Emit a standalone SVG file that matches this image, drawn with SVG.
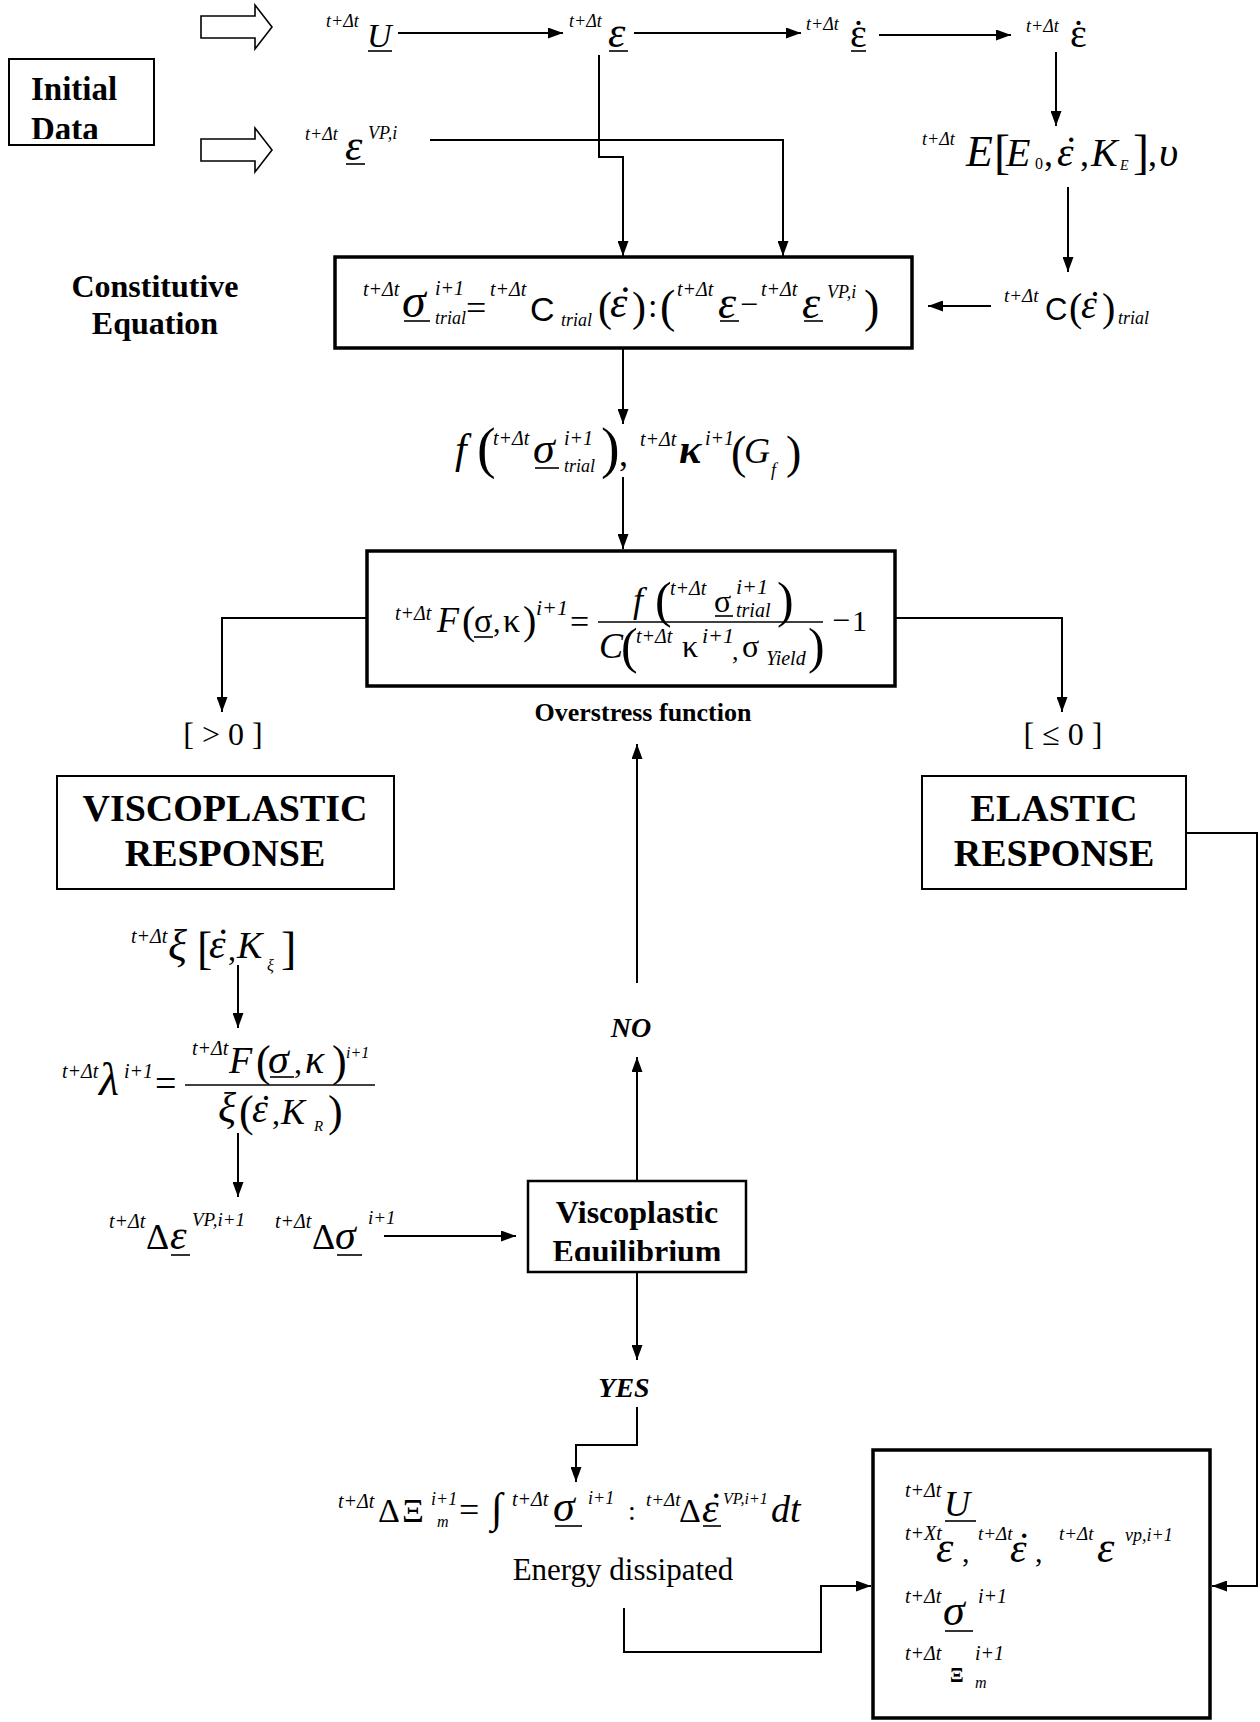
<svg xmlns="http://www.w3.org/2000/svg" width="1260" height="1722" viewBox="0 0 1260 1722">
<style>
text{font-family:"Liberation Serif","Times New Roman",serif;fill:#000}
.i{font-style:italic}
.b{font-weight:bold}
.sans{font-family:"Liberation Sans",Arial,sans-serif}
.pre{font-style:italic}
.ln{stroke:#000;stroke-width:2;fill:none}
.ul{stroke:#000;stroke-width:1.6}
.box{fill:none;stroke:#000;stroke-width:2}
.tbox{fill:none;stroke:#000;stroke-width:3.5}
.hol{fill:#fff;stroke:#000;stroke-width:1.6}
</style>
<defs>
<marker id="ah" markerUnits="userSpaceOnUse" markerWidth="15" markerHeight="11" refX="15" refY="5.5" orient="auto">
<path d="M0,0 L15,5.5 L0,11 z" fill="#000"/>
</marker>
<clipPath id="clipInit"><rect x="10" y="60" width="143" height="79"/></clipPath>
<clipPath id="clipEq"><rect x="530" y="1183" width="214" height="78"/></clipPath>
</defs>

<g id="connectors">
<path class="ln" marker-end="url(#ah)" d="M398,33 H563"/>
<path class="ln" marker-end="url(#ah)" d="M634,33 H801"/>
<path class="ln" marker-end="url(#ah)" d="M879,35 H1011"/>
<path class="ln" marker-end="url(#ah)" d="M1056,52 V126"/>
<path class="ln" marker-end="url(#ah)" d="M1068,187 V272"/>
<path class="ln" marker-end="url(#ah)" d="M991,306 H928"/>
<path class="ln" marker-end="url(#ah)" d="M599,55 V157 H623 V256"/>
<path class="ln" marker-end="url(#ah)" d="M430,140 H783 V256"/>
<path class="ln" marker-end="url(#ah)" d="M623,348 V424"/>
<path class="ln" marker-end="url(#ah)" d="M623,477 V549"/>
<path class="ln" marker-end="url(#ah)" d="M367,618 H222 V712"/>
<path class="ln" marker-end="url(#ah)" d="M895,618 H1062 V712"/>
<path class="ln" marker-end="url(#ah)" d="M238,965 V1028"/>
<path class="ln" marker-end="url(#ah)" d="M238,1133 V1197"/>
<path class="ln" marker-end="url(#ah)" d="M384,1236 H516"/>
<path class="ln" marker-end="url(#ah)" d="M637,1181 V1057"/>
<path class="ln" marker-end="url(#ah)" d="M637,983 V744"/>
<path class="ln" marker-end="url(#ah)" d="M637,1272 V1360"/>
<path class="ln" marker-end="url(#ah)" d="M637,1407 V1445 H576 V1482"/>
<path class="ln" marker-end="url(#ah)" d="M624,1608 V1652 H821 V1586 H871"/>
<path class="ln" marker-end="url(#ah)" d="M1186,833 H1257 V1586 H1212"/>
</g>

<g id="input-arrows">
<path class="hol" d="M201,16 H255 V5 L272,27 L255,49 V38 H201 Z"/>
<path class="hol" d="M201,139 H255 V128 L272,150 L255,172 V161 H201 Z"/>
</g>

<g id="initial-data">
<rect class="box" x="9" y="59" width="145" height="86"/>
<g clip-path="url(#clipInit)">
<text class="b" x="31" y="100" font-size="33">Initial</text>
<text class="b" x="31" y="140" font-size="33">Data</text>
</g>
</g>

<g id="U">
<text class="pre" x="326" y="27" font-size="18">t+Δt</text>
<text class="i" x="367" y="47" font-size="34">U</text>
<line class="ul" x1="368" y1="51" x2="392" y2="51"/>
</g>
<g id="eps">
<text class="pre" x="569" y="27" font-size="18">t+Δt</text>
<text class="i" x="608" y="47" font-size="44">ε</text>
<line class="ul" x1="609" y1="51" x2="628" y2="51"/>
</g>
<g id="epsdot">
<text class="pre" x="806" y="30" font-size="18">t+Δt</text>
<text x="850" y="47" font-size="40">ε<tspan dx="-15">˙</tspan></text>
<line class="ul" x1="851" y1="51" x2="866" y2="51"/>
</g>
<g id="epsdot2">
<text class="pre" x="1026" y="32" font-size="18">t+Δt</text>
<text x="1070" y="47" font-size="40">ε<tspan dx="-15">˙</tspan></text>
</g>
<g id="epsVP">
<text class="pre" x="305" y="140" font-size="18">t+Δt</text>
<text class="i" x="345" y="160" font-size="44">ε</text>
<line class="ul" x1="346" y1="164" x2="365" y2="164"/>
<text class="i" x="368" y="139" font-size="18">VP,i</text>
</g>

<g id="E">
<text class="pre" x="922" y="145" font-size="18">t+Δt</text>
<text class="i" x="966" y="166" font-size="44">E</text>
<text x="994" y="168" font-size="48">[</text>
<text class="i" x="1006" y="166" font-size="40">E</text>
<text x="1035" y="169" font-size="16">0</text>
<text x="1044" y="166" font-size="36">,</text>
<text class="i" x="1057" y="166" font-size="42">ε<tspan dx="-12">˙</tspan></text>
<text x="1080" y="166" font-size="36">,</text>
<text class="i" x="1091" y="166" font-size="40">K</text>
<text class="i" x="1120" y="170" font-size="14">E</text>
<text x="1133" y="168" font-size="48">]</text>
<text x="1148" y="166" font-size="36">,</text>
<text class="i" x="1159" y="166" font-size="42">υ</text>
</g>

<g id="Ctrial">
<text class="pre" x="1004" y="302" font-size="19">t+Δt</text>
<text class="sans" x="1045" y="320" font-size="31">C</text>
<text x="1069" y="321" font-size="40">(</text>
<text class="i" x="1081" y="318" font-size="40">ε<tspan dx="-11">˙</tspan></text>
<text x="1102" y="321" font-size="40">)</text>
<text class="i" x="1118" y="324" font-size="18">trial</text>
</g>

<g id="constitutive-label">
<text class="b" x="155" y="297" font-size="32" text-anchor="middle">Constitutive</text>
<text class="b" x="155" y="334" font-size="32" text-anchor="middle">Equation</text>
</g>

<g id="constitutive">
<rect class="tbox" x="335" y="257" width="577" height="91"/>
<text class="pre" x="363" y="296" font-size="20">t+Δt</text>
<text class="i" x="402" y="317" font-size="48">σ</text>
<line class="ul" x1="404" y1="321" x2="430" y2="321"/>
<text class="i" x="435" y="295" font-size="20">i+1</text>
<text class="i" x="435" y="324" font-size="18">trial</text>
<text x="466" y="320" font-size="36">=</text>
<text class="pre" x="490" y="296" font-size="20">t+Δt</text>
<text class="sans" x="530" y="321" font-size="34">C</text>
<text class="i" x="561" y="326" font-size="18">trial</text>
<text x="598" y="321" font-size="42">(</text>
<text class="i" x="610" y="317" font-size="44">ε<tspan dx="-12">˙</tspan></text>
<text x="632" y="321" font-size="42">)</text>
<text x="648" y="317" font-size="34">:</text>
<text x="660" y="322" font-size="46">(</text>
<text class="pre" x="677" y="296" font-size="20">t+Δt</text>
<text class="i" x="718" y="318" font-size="46">ε</text>
<line class="ul" x1="720" y1="321" x2="739" y2="321"/>
<text x="740" y="315" font-size="32">−</text>
<text class="pre" x="761" y="296" font-size="20">t+Δt</text>
<text class="i" x="802" y="318" font-size="46">ε</text>
<line class="ul" x1="804" y1="321" x2="823" y2="321"/>
<text class="i" x="827" y="298" font-size="18">VP,i</text>
<text x="864" y="322" font-size="46">)</text>
</g>

<g id="f-kappa">
<text class="i" x="455" y="463" font-size="42">f</text>
<text x="477" y="467" font-size="56">(</text>
<text class="pre" x="493" y="445" font-size="20">t+Δt</text>
<text class="i" x="533" y="463" font-size="44">σ</text>
<line class="ul" x1="535" y1="468" x2="559" y2="468"/>
<text class="i" x="564" y="445" font-size="20">i+1</text>
<text class="i" x="564" y="472" font-size="18">trial</text>
<text x="601" y="467" font-size="56">)</text>
<text x="619" y="466" font-size="36">,</text>
<text class="pre" x="640" y="446" font-size="20">t+Δt</text>
<text class="i b" x="679" y="463" font-size="42">κ</text>
<text class="i" x="705" y="445" font-size="20">i+1</text>
<text x="731" y="468" font-size="46">(</text>
<text class="i" x="744" y="463" font-size="36">G</text>
<text class="i" x="771" y="476" font-size="18">f</text>
<text x="786" y="468" font-size="46">)</text>
</g>

<g id="overstress">
<rect class="tbox" x="367" y="551" width="528" height="135"/>
<text class="pre" x="395" y="620" font-size="20">t+Δt</text>
<text class="i" x="437" y="632" font-size="36">F</text>
<text x="462" y="634" font-size="40">(</text>
<text x="474" y="632" font-size="34">σ</text>
<line class="ul" x1="474" y1="637" x2="493" y2="637"/>
<text x="493" y="632" font-size="30">,</text>
<text x="503" y="632" font-size="34">κ</text>
<text x="523" y="634" font-size="40">)</text>
<text class="i" x="536" y="615" font-size="22">i+1</text>
<text x="570" y="633" font-size="34">=</text>
<line x1="598" y1="622" x2="823" y2="622" stroke="#000" stroke-width="1.6"/>
<text class="i" x="633" y="612" font-size="36">f</text>
<text x="655" y="617" font-size="50">(</text>
<text class="pre" x="670" y="595" font-size="20">t+Δt</text>
<text x="714" y="612" font-size="32">σ</text>
<line class="ul" x1="715" y1="616" x2="733" y2="616"/>
<text class="i" x="736" y="594" font-size="22">i+1</text>
<text class="i" x="736" y="617" font-size="20">trial</text>
<text x="777" y="617" font-size="50">)</text>
<text class="i" x="599" y="658" font-size="36">C</text>
<text x="621" y="663" font-size="50">(</text>
<text class="pre" x="636" y="643" font-size="20">t+Δt</text>
<text x="682" y="657" font-size="32">κ</text>
<text class="i" x="702" y="643" font-size="22">i+1</text>
<text x="732" y="660" font-size="26">,</text>
<text x="742" y="657" font-size="32">σ</text>
<text class="i" x="766" y="665" font-size="20">Yield</text>
<text x="808" y="663" font-size="50">)</text>
<text x="832" y="631" font-size="32">−</text>
<text x="852" y="631" font-size="30">1</text>
</g>
<g id="overstress-label">
<text class="b" x="643" y="721" font-size="26" text-anchor="middle">Overstress function</text>
</g>

<g id="cond-pos"><text x="223" y="745" font-size="32" text-anchor="middle" xml:space="preserve">[ &gt; 0 ]</text></g>
<g id="cond-neg"><text x="1063" y="745" font-size="32" text-anchor="middle" xml:space="preserve">[ ≤ 0 ]</text></g>

<g id="viscoplastic-response">
<rect class="box" x="57" y="776" width="337" height="113"/>
<text class="b" x="225" y="821" font-size="38" text-anchor="middle">VISCOPLASTIC</text>
<text class="b" x="225" y="866" font-size="38" text-anchor="middle">RESPONSE</text>
</g>
<g id="elastic-response">
<rect class="box" x="922" y="776" width="264" height="113"/>
<text class="b" x="1054" y="821" font-size="38" text-anchor="middle">ELASTIC</text>
<text class="b" x="1054" y="866" font-size="38" text-anchor="middle">RESPONSE</text>
</g>

<g id="xi">
<text class="pre" x="131" y="943" font-size="20">t+Δt</text>
<text class="i" x="168" y="960" font-size="44">ξ</text>
<text x="197" y="964" font-size="46">[</text>
<text class="i" x="209" y="958" font-size="42">ε<tspan dx="-12">˙</tspan></text>
<text x="228" y="960" font-size="32">,</text>
<text class="i" x="237" y="958" font-size="38">K</text>
<text class="i" x="267" y="971" font-size="16">ξ</text>
<text x="281" y="964" font-size="46">]</text>
</g>

<g id="lambda">
<text class="pre" x="62" y="1078" font-size="20">t+Δt</text>
<text class="i" x="99" y="1095" font-size="46">λ</text>
<text class="i" x="124" y="1078" font-size="20">i+1</text>
<text x="155" y="1096" font-size="38">=</text>
<line x1="185" y1="1085" x2="375" y2="1085" stroke="#000" stroke-width="1.6"/>
<text class="pre" x="192" y="1055" font-size="20">t+Δt</text>
<text class="i" x="229" y="1073" font-size="38">F</text>
<text x="256" y="1076" font-size="44">(</text>
<text class="i" x="268" y="1073" font-size="42">σ</text>
<line class="ul" x1="270" y1="1077" x2="294" y2="1077"/>
<text x="294" y="1073" font-size="32">,</text>
<text class="i" x="305" y="1073" font-size="40">κ</text>
<text x="332" y="1076" font-size="44">)</text>
<text class="i" x="346" y="1058" font-size="16">i+1</text>
<text class="i" x="218" y="1122" font-size="42">ξ</text>
<text x="239" y="1126" font-size="44">(</text>
<text class="i" x="252" y="1122" font-size="40">ε<tspan dx="-11">˙</tspan></text>
<text x="272" y="1124" font-size="32">,</text>
<text class="i" x="281" y="1124" font-size="36">K</text>
<text class="i" x="314" y="1131" font-size="15">R</text>
<text x="328" y="1126" font-size="44">)</text>
</g>

<g id="delta">
<text class="pre" x="109" y="1228" font-size="20">t+Δt</text>
<text x="146" y="1249" font-size="36">Δ</text>
<text class="i" x="170" y="1249" font-size="42">ε</text>
<line class="ul" x1="171" y1="1255" x2="190" y2="1255"/>
<text class="i" x="192" y="1226" font-size="19">VP,i+1</text>
<text class="pre" x="275" y="1228" font-size="20">t+Δt</text>
<text x="312" y="1249" font-size="36">Δ</text>
<text class="i" x="335" y="1249" font-size="42">σ</text>
<line class="ul" x1="337" y1="1255" x2="362" y2="1255"/>
<text class="i" x="368" y="1224" font-size="19">i+1</text>
</g>

<g id="viscoplastic-equilibrium">
<rect x="528" y="1181" width="218" height="91" fill="none" stroke="#000" stroke-width="2.5"/>
<text class="b" x="637" y="1223" font-size="32" text-anchor="middle">Viscoplastic</text>
<g clip-path="url(#clipEq)"><text class="b" x="637" y="1262" font-size="32" text-anchor="middle">Equilibrium</text></g>
</g>

<g id="no-label"><text class="b i" x="631" y="1037" font-size="28" text-anchor="middle">NO</text></g>
<g id="yes-label"><text class="b i" x="624" y="1397" font-size="28" text-anchor="middle">YES</text></g>

<g id="energy">
<text class="pre" x="338" y="1508" font-size="20">t+Δt</text>
<text x="378" y="1522" font-size="34">Δ</text>
<text x="402" y="1522" font-size="34">Ξ</text>
<text class="i" x="431" y="1505" font-size="18">i+1</text>
<text class="i" x="437" y="1527" font-size="16">m</text>
<text x="459" y="1522" font-size="36">=</text>
<text x="491" y="1522" font-size="42">∫</text>
<text class="pre" x="512" y="1506" font-size="20">t+Δt</text>
<text class="i" x="553" y="1521" font-size="44">σ</text>
<line class="ul" x1="555" y1="1526" x2="582" y2="1526"/>
<text class="i" x="588" y="1504" font-size="18">i+1</text>
<text x="628" y="1520" font-size="28">:</text>
<text class="pre" x="646" y="1506" font-size="19">t+Δt</text>
<text x="679" y="1522" font-size="34">Δ</text>
<text class="i" x="702" y="1522" font-size="42">ε<tspan dx="-12">˙</tspan></text>
<line class="ul" x1="703" y1="1526" x2="721" y2="1526"/>
<text class="i" x="723" y="1504" font-size="16">VP,i+1</text>
<text class="i" x="771" y="1522" font-size="38">dt</text>
<text x="623" y="1580" font-size="31" text-anchor="middle">Energy dissipated</text>
</g>

<g id="results">
<rect class="tbox" x="873" y="1450" width="337" height="268"/>
<text class="pre" x="905" y="1497" font-size="20">t+Δt</text>
<text class="i" x="944" y="1516" font-size="36">U</text>
<line class="ul" x1="945" y1="1521" x2="976" y2="1521"/>
<text class="pre" x="905" y="1540" font-size="20">t+Xt</text>
<text class="i" x="936" y="1562" font-size="44">ε</text>
<text x="962" y="1562" font-size="30">,</text>
<text class="pre" x="978" y="1540" font-size="19">t+Δt</text>
<text class="i" x="1010" y="1562" font-size="42">ε<tspan dx="-12">˙</tspan></text>
<text x="1035" y="1562" font-size="30">,</text>
<text class="pre" x="1059" y="1540" font-size="19">t+Δt</text>
<text class="i" x="1097" y="1562" font-size="44">ε</text>
<text class="i" x="1125" y="1541" font-size="18">vp,i+1</text>
<text class="pre" x="905" y="1603" font-size="20">t+Δt</text>
<text class="i" x="943" y="1625" font-size="44">σ</text>
<line class="ul" x1="945" y1="1631" x2="973" y2="1631"/>
<text class="i" x="978" y="1603" font-size="20">i+1</text>
<text class="pre" x="905" y="1660" font-size="20">t+Δt</text>
<text class="b" x="950" y="1682" font-size="20">Ξ</text>
<text class="i" x="975" y="1660" font-size="20">i+1</text>
<text class="i" x="975" y="1688" font-size="16">m</text>
</g>
</svg>
